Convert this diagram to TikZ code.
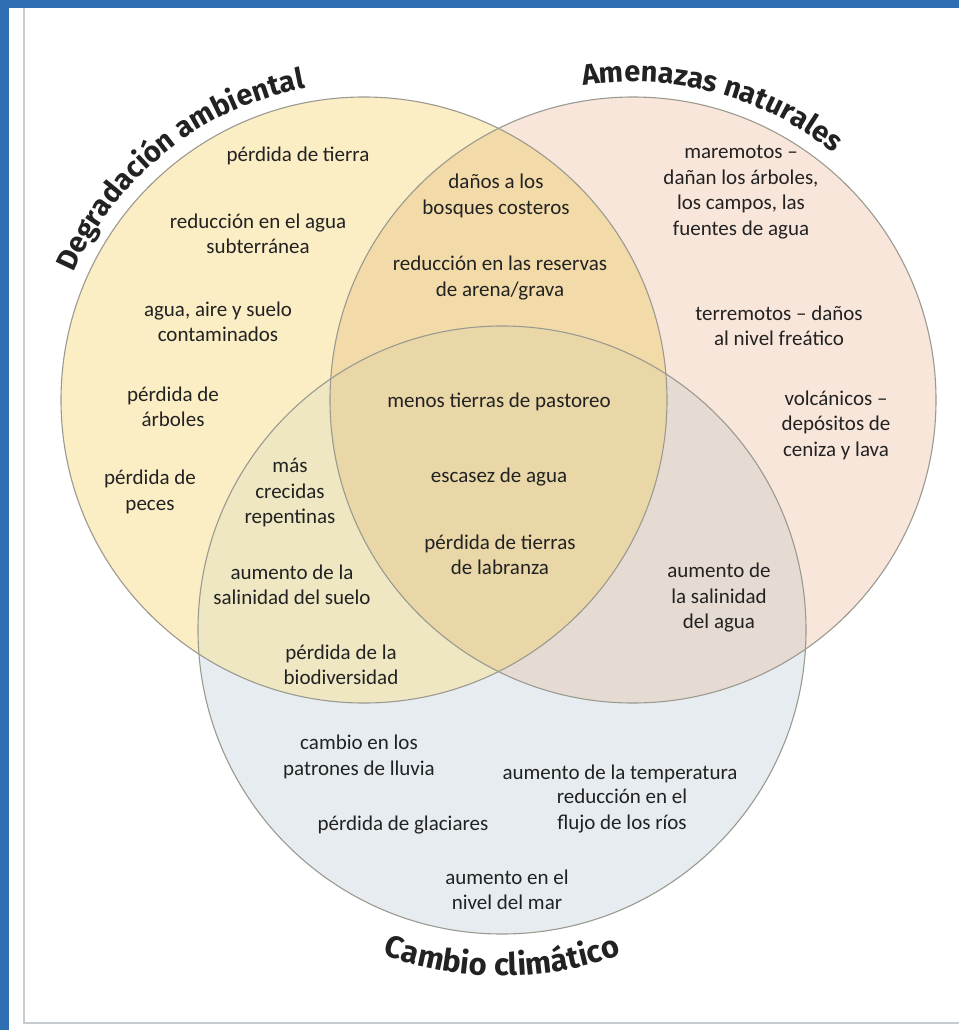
\documentclass[tikz,border=0pt]{standalone}
\usepackage{fontspec}
\setmainfont{Carlito}
\newfontfamily\titlefont{Fira Sans}
\usetikzlibrary{positioning,decorations.text}
\definecolor{frameblue}{HTML}{2F6EB2}
\definecolor{panelline}{HTML}{C5CDD2}
\definecolor{degfill}{HTML}{FBEDC4}
\definecolor{amefill}{HTML}{F9E6DB}
\definecolor{climfill}{HTML}{E6ECF0}
\definecolor{degame}{HTML}{F2DBA8}
\definecolor{degclim}{HTML}{EEE7C2}
\definecolor{ameclim}{HTML}{E6DBD2}
\definecolor{allthree}{HTML}{E9D7A8}
\definecolor{ringgray}{HTML}{9B9A90}
\definecolor{inkgray}{HTML}{222222}
\newcommand{\titlestyle}{\color{inkgray}\titlefont\bfseries\fontsize{29}{29}\selectfont}
\newcommand{\bigtitlestyle}{\color{inkgray}\titlefont\bfseries\fontsize{31}{31}\selectfont}
\tikzset{%
setring/.style={draw=ringgray,line width=1.1pt},
item/.style={align=center,font=\fontsize{21}{25.5}\selectfont,text=inkgray,inner sep=0pt},
settitle/.style={decorate,decoration={text along path,text align=center,text={|\titlestyle|#1}}},
bigsettitle/.style={decorate,decoration={text along path,text align=center,text={|\bigtitlestyle|#1}}}
}

\begin{document}
\begin{tikzpicture}[x=1pt,y=1pt]
  \useasboundingbox (0,0) rectangle (959,-1030);
  % frame
  \fill[frameblue] (0,0) rectangle (959,-1030);
  \fill[white] (9,-8) rectangle (959,-1030);
  \draw[panelline,line width=1.5pt] (24,-8) -- (24,-1023) -- (959,-1023);

  \coordinate (cDeg) at (364,-400);
  \coordinate (cAme) at (633,-400);
  \coordinate (cClim) at (502,-630);

  % the three sets
  \fill[degfill] (cDeg) circle[radius=303];
  \fill[amefill] (cAme) circle[radius=303];
  \fill[climfill] (cClim) circle[radius=304];
  \begin{scope}
    \clip (cDeg) circle[radius=303];
    \fill[degame] (cAme) circle[radius=303];
    \fill[degclim] (cClim) circle[radius=304];
    \clip (cAme) circle[radius=303];
    \fill[allthree] (cClim) circle[radius=304];
  \end{scope}
  \begin{scope}
    \clip (cAme) circle[radius=303];
    \clip (cClim) circle[radius=304];
    \fill[ameclim] (cAme) circle[radius=303];
    \fill[allthree] (cDeg) circle[radius=303];
  \end{scope}
  \draw[setring] (cDeg) circle[radius=303];
  \draw[setring] (cAme) circle[radius=303];
  \draw[setring] (cClim) circle[radius=304];

  % titles
  \path[settitle={Degradación ambiental}]
    ([shift={(172:317)}]cDeg) arc[start angle=172,end angle=85,radius=317];
  \path[settitle={Amenazas naturales}]
    ([shift={(115:318)}]cAme) arc[start angle=115,end angle=35,radius=318];
  \path[bigsettitle={Cambio climático}]
    ([shift={(228:346)}]cClim) arc[start angle=228,end angle=312,radius=346];

  % degradacion only
  \node[item] (tierra) at (298,-156) {pérdida de tierra};
  \node[item] (subte) at (258,-234) {reducción en el agua\\subterránea};
  \node[item] (contam) at (218,-322) {agua, aire y suelo\\contaminados};
  \node[item] (arboles) at (173,-407) {pérdida de\\árboles};
  \node[item] (peces) at (150,-492) {pérdida de\\peces};

  % degradacion + amenazas
  \node[item] (bosques) at (496,-196) {daños a los\\bosques costeros};
  \node[item] (arena) at (500,-278) {reducción en las reservas\\de arena/grava};

  % amenazas only
  \node[item] (maremotos) at (741,-192) {maremotos –\\dañan los árboles,\\los campos, las\\fuentes de agua};
  \node[item] (terremotos) at (779,-326) {terremotos – daños\\al nivel freático};
  \node[item] (volcanes) at (836,-425) {volcánicos –\\depósitos de\\ceniza y lava};

  % all three
  \node[item] (pastoreo) at (499,-402) {menos tierras de pastoreo};
  \node[item] (escasez) at (499,-477) {escasez de agua};
  \node[item] (labranza) at (500,-555) {pérdida de tierras\\de labranza};

  % degradacion + clima
  \node[item] (crecidas) at (290,-493) {más\\crecidas\\repentinas};
  \node[item] (salsuelo) at (292,-585) {aumento de la\\salinidad del suelo};
  \node[item] (biodiv) at (341,-665) {pérdida de la\\biodiversidad};

  % amenazas + clima
  \node[item] (salagua) at (719,-598) {aumento de\\la salinidad\\del agua};

  % clima only
  \node[item] (lluvia) at (359,-757) {cambio en los\\patrones de lluvia};
  \node[item] (temperatura) at (620,-774) {aumento de la temperatura};
  \node[item] (rios) at (622,-811) {reducción en el\\flujo de los ríos};
  \node[item] (glaciares) at (403,-825) {pérdida de glaciares};
  \node[item] (mar) at (507,-890) {aumento en el\\nivel del mar};
\end{tikzpicture}
\end{document}
